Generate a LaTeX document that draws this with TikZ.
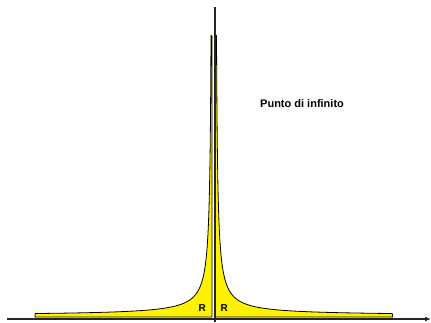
\documentclass[tikz,border=0pt]{standalone}
\usepackage{fontspec}
\setmainfont{Liberation Sans}
\usetikzlibrary{arrows.meta}
\tikzstyle{ax}=[line width=1.2pt, draw=black!85]
\tikzstyle{reg}=[fill=yellow, draw=black, line width=0.8pt, line join=round]
\tikzstyle{lab}=[inner sep=0, font=\bfseries\fontsize{10}{11}\selectfont]
\begin{document}
\begin{tikzpicture}[x=1pt, y=-1pt]
\useasboundingbox (0,0) rectangle (431,322);
% regions
\fill[reg] (212,317) -- (212,36) -- plot[variable=\t, domain=0:5.176, samples=160] ({212-exp(\t)}, {317-350/(exp(\t)+0.25)-1.5}) -- (35,317) -- cycle;
\fill[reg] (215.5,317) -- (215.5,36) -- plot[variable=\t, domain=0:5.176, samples=160] ({215.5+exp(\t)}, {317-350/(exp(\t)+0.25)-1.5}) -- (392.5,317) -- cycle;
% axes
\coordinate (xl) at (7,319);
\coordinate (xr) at (431,319);
\coordinate (yt) at (215,7);
\coordinate (yb) at (215,322);
\draw[ax, -{Latex[length=6pt, width=5pt]}] (xl) -- (xr);
\draw[ax] (yb) -- (yt);
% labels
\node at (260,107)[lab, anchor=base west, font=\bfseries\fontsize{11}{12}\selectfont](inf){Punto di infinito};
\node at (198.5,311)[lab, anchor=base west](r1){R};
\node at (220.5,311)[lab, anchor=base west](r2){R};
\end{tikzpicture}
\end{document}
